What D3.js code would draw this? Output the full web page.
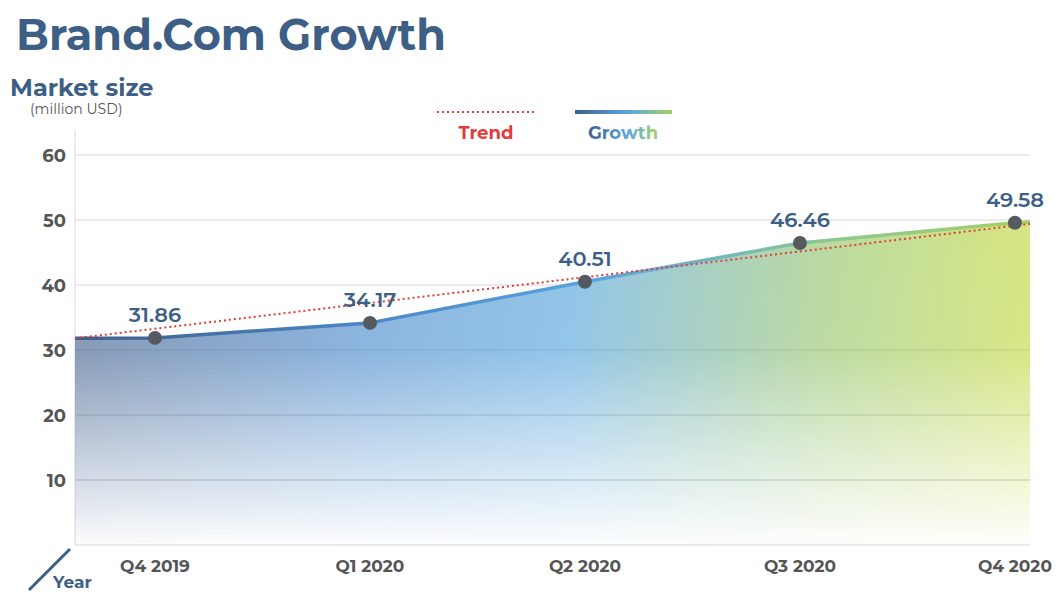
<!DOCTYPE html>
<html><head><meta charset="utf-8">
<script src="https://cdn.jsdelivr.net/npm/d3@7"></script>
<style>body{margin:0;background:#fff;font-family:"Montserrat","Lato","Open Sans",sans-serif}</style>
</head><body><svg id="c" width="1064" height="601"></svg>
<script>
var quarters = ["Q4 2019", "Q1 2020", "Q2 2020", "Q3 2020", "Q4 2020"];
var growth = [31.86, 34.17, 40.51, 46.46, 49.58];
var edgeValues = [31.8, 49.7];      // where the line meets the plot edges
var trendEnds = [31.8, 49.4];
var yTicks = [10, 20, 30, 40, 50, 60];

var svg = d3.select("#c");
var pLeft = 75, pRight = 1030, pTop = 155, pBottom = 545;
var x = d3.scaleLinear().domain([-0.372, 4.07]).range([pLeft, pRight]);
var y = d3.scaleLinear().domain([0, 60]).range([pBottom, pTop]);

var defs = svg.append("defs");
var hg = defs.append("linearGradient").attr("id", "hg").attr("gradientUnits", "userSpaceOnUse")
  .attr("x1", pLeft).attr("x2", pRight).attr("y1", 0).attr("y2", 0);
[[0, "#8296b4"], [0.3, "#86b1dd"], [0.52, "#8fc3e8"], [0.78, "#b9d8a0"], [1, "#d6e680"]].forEach(function (s) {
  hg.append("stop").attr("offset", s[0]).attr("stop-color", s[1]);
});
var lg = defs.append("linearGradient").attr("id", "lg").attr("gradientUnits", "userSpaceOnUse")
  .attr("x1", pLeft).attr("x2", pRight).attr("y1", 0).attr("y2", 0);
[[0, "#3f5f8c"], [0.35, "#4d8ccc"], [0.55, "#5aa6e0"], [0.8, "#8cc890"], [1, "#a6d164"]].forEach(function (s) {
  lg.append("stop").attr("offset", s[0]).attr("stop-color", s[1]);
});
var vg = defs.append("linearGradient").attr("id", "vg").attr("x1", 0).attr("x2", 0).attr("y1", 0).attr("y2", 1);
[[0, "#fff", 1], [0.45, "#fff", 0.95], [1, "#fff", 0.03]].forEach(function (s) {
  vg.append("stop").attr("offset", s[0]).attr("stop-color", s[1]).attr("stop-opacity", s[2]);
});
var mk = defs.append("mask").attr("id", "mk").attr("maskUnits", "userSpaceOnUse")
  .attr("x", 0).attr("y", 0).attr("width", 1064).attr("height", 601);
mk.append("rect").attr("x", pLeft).attr("y", pTop + 40).attr("width", pRight - pLeft).attr("height", pBottom - pTop - 40).attr("fill", "url(#vg)");
mk.append("rect").attr("x", pLeft).attr("y", pTop - 20).attr("width", pRight - pLeft).attr("height", 61).attr("fill", "#fff");

// title
svg.append("text").attr("x", 16).attr("y", 50).attr("fill", "#3d5f85").attr("font-size", 43).attr("font-weight", 700).text("Brand.Com Growth");
svg.append("text").attr("x", 10).attr("y", 96).attr("fill", "#3d5f85").attr("font-size", 24).attr("font-weight", 700).text("Market size");
svg.append("text").attr("x", 30).attr("y", 114).attr("fill", "#555").attr("font-size", 14).text("(million USD)");

// grid
svg.append("g").selectAll("line").data(yTicks).join("line")
  .attr("x1", pLeft).attr("x2", pRight).attr("y1", d => y(d)).attr("y2", d => y(d))
  .attr("stroke", "#e4e4e8").attr("stroke-width", 1.5);
svg.append("line").attr("x1", pLeft).attr("x2", pLeft).attr("y1", 130).attr("y2", pBottom).attr("stroke", "#e4e4e8").attr("stroke-width", 1.5);
svg.append("line").attr("x1", pLeft).attr("x2", pRight).attr("y1", pBottom).attr("y2", pBottom).attr("stroke", "#e4e4e8").attr("stroke-width", 1.5);
svg.append("g").selectAll("text").data(yTicks).join("text")
  .attr("x", 66).attr("y", d => y(d) + 7).attr("text-anchor", "end").attr("fill", "#555")
  .attr("font-size", 18).attr("font-weight", 700).text(d => d);

// area + line
var pts = [[-0.372, edgeValues[0]]].concat(growth.map((v, i) => [i, v])).concat([[4.07, edgeValues[1]]]);
var area = d3.area().x(d => x(d[0])).y0(pBottom).y1(d => y(d[1])).curve(d3.curveMonotoneX);
var line = d3.line().x(d => x(d[0])).y(d => y(d[1])).curve(d3.curveMonotoneX);
area.curve(d3.curveLinear); line.curve(d3.curveLinear);
svg.append("path").attr("d", area(pts)).attr("fill", "url(#hg)").attr("mask", "url(#mk)");
// faint grid over area
svg.append("g").selectAll("line").data(yTicks.filter(d => d <= 30)).join("line")
  .attr("x1", pLeft).attr("x2", pRight).attr("y1", d => y(d)).attr("y2", d => y(d))
  .attr("stroke", "#000").attr("stroke-opacity", 0.06).attr("stroke-width", 1.5);
svg.append("path").attr("d", line(pts)).attr("fill", "none").attr("stroke", "url(#lg)").attr("stroke-width", 3.5).attr("stroke-linejoin", "round");

// trend
svg.append("line").attr("x1", x(-0.372)).attr("x2", x(4.07)).attr("y1", y(trendEnds[0])).attr("y2", y(trendEnds[1]))
  .attr("stroke", "#e03c3c").attr("stroke-width", 2).attr("stroke-dasharray", "2,3");

// points and labels
svg.append("g").selectAll("circle").data(growth).join("circle")
  .attr("cx", (d, i) => x(i)).attr("cy", d => y(d)).attr("r", 7).attr("fill", "#555a60");
svg.append("g").selectAll("text").data(growth).join("text")
  .attr("x", (d, i) => x(i) + (i == 4 ? 0 : 0)).attr("y", d => y(d) - 16).attr("text-anchor", "middle")
  .attr("fill", "#3d5f85").attr("font-size", 21).attr("font-weight", 600).text(d => d.toFixed(2));

// x labels
svg.append("g").selectAll("text").data(quarters).join("text")
  .attr("x", (d, i) => x(i)).attr("y", 572).attr("text-anchor", "middle").attr("fill", "#555")
  .attr("font-size", 17).attr("font-weight", 700).text(d => d);
svg.append("line").attr("x1", 29).attr("y1", 590).attr("x2", 70).attr("y2", 549).attr("stroke", "#3d5f85").attr("stroke-width", 3);
svg.append("text").attr("x", 53).attr("y", 588).attr("fill", "#3d5f85").attr("font-size", 17).attr("font-weight", 700).text("Year");

// legend
svg.append("line").attr("x1", 437).attr("x2", 535).attr("y1", 112).attr("y2", 112).attr("stroke", "#e03c3c").attr("stroke-width", 2).attr("stroke-dasharray", "2,3");
svg.append("text").attr("x", 486).attr("y", 139).attr("text-anchor", "middle").attr("fill", "#e03c3c").attr("font-size", 18).attr("font-weight", 700).text("Trend");
var lg2 = defs.append("linearGradient").attr("id", "lg2");
lg2.append("stop").attr("offset", 0).attr("stop-color", "#3f5f8c");
lg2.append("stop").attr("offset", 0.55).attr("stop-color", "#5aa6e0");
lg2.append("stop").attr("offset", 1).attr("stop-color", "#a6d164");
svg.append("rect").attr("x", 575).attr("y", 110).attr("width", 97).attr("height", 4).attr("fill", "url(#lg2)");
svg.append("text").attr("x", 623).attr("y", 139).attr("text-anchor", "middle").attr("fill", "url(#lg2)").attr("font-size", 18).attr("font-weight", 700).text("Growth");
</script></body></html>
